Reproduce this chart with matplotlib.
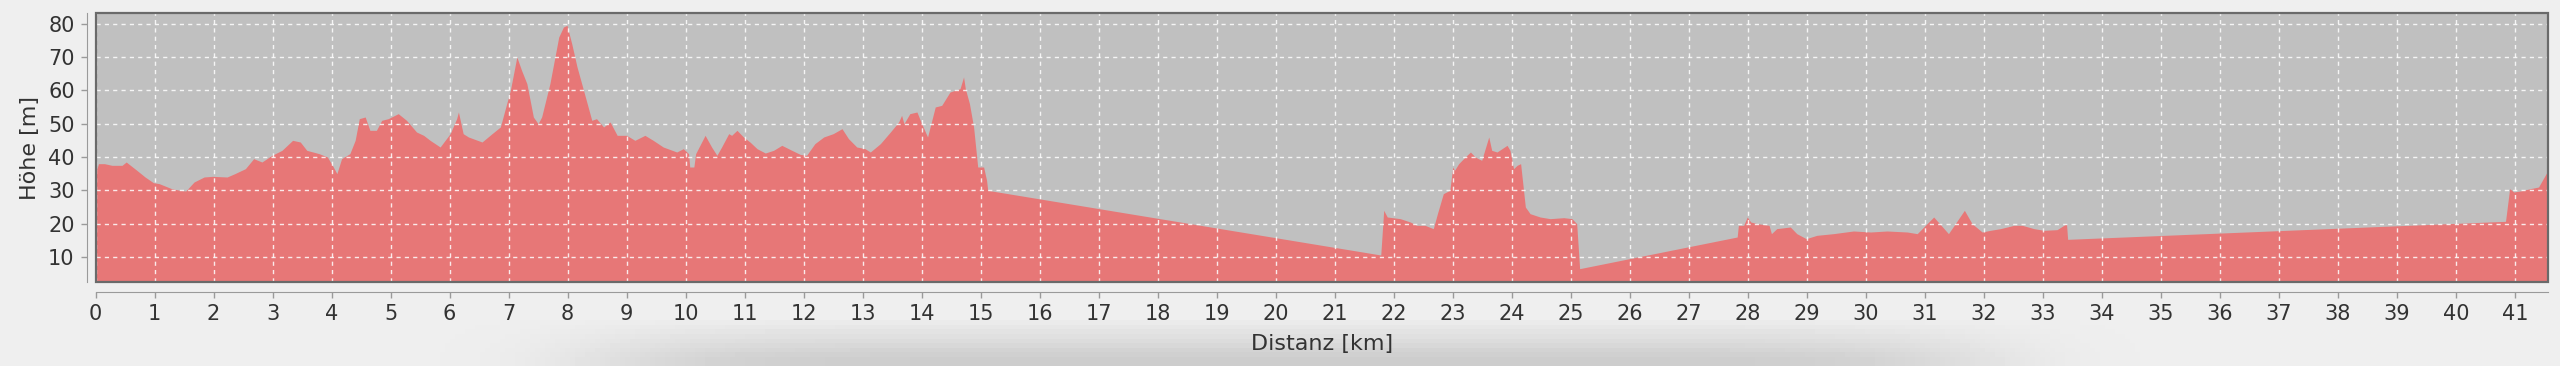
import numpy as np
import matplotlib
matplotlib.use('Agg')
import matplotlib.pyplot as plt
from matplotlib.patches import Rectangle

# Höhenprofil
dist_km = [0.00, 0.05, 0.15, 0.28, 0.45, 0.52, 0.70, 0.84, 0.98, 1.08, 1.29, 1.43, 1.53, 1.67, 1.84, 1.98,
           2.23, 2.36, 2.54, 2.68, 2.82, 2.99, 3.16, 3.34, 3.47, 3.58, 3.79, 3.93, 4.03, 4.09, 4.17, 4.31,
           4.40, 4.47, 4.57, 4.65, 4.76, 4.85, 4.96, 5.13, 5.27, 5.44, 5.56, 5.67, 5.84, 6.01, 6.12, 6.15,
           6.23, 6.32, 6.55, 6.72, 6.86, 7.03, 7.14, 7.22, 7.31, 7.42, 7.50, 7.56, 7.70, 7.85, 7.93, 7.99,
           8.07, 8.16, 8.27, 8.41, 8.49, 8.61, 8.72, 8.84, 9.00, 9.14, 9.31, 9.45, 9.62, 9.85, 9.96, 10.05,
           10.07, 10.14, 10.17, 10.33, 10.44, 10.53, 10.61, 10.73, 10.78, 10.87, 10.98, 11.09, 11.21, 11.35,
           11.49, 11.63, 11.80, 11.94, 12.05, 12.19, 12.34, 12.50, 12.65, 12.76, 12.90, 13.04, 13.13, 13.30,
           13.47, 13.61, 13.66, 13.70, 13.80, 13.92, 14.00, 14.10, 14.23, 14.34, 14.48, 14.65, 14.71, 14.74,
           14.81, 14.88, 14.95, 15.05, 15.10, 15.12, 21.78, 21.83, 21.89, 22.11, 22.28, 22.39, 22.53, 22.67,
           22.74, 22.84, 22.95, 23.00, 23.03, 23.10, 23.21, 23.30, 23.38, 23.49, 23.55, 23.61, 23.66, 23.75,
           23.92, 23.97, 24.03, 24.09, 24.15, 24.23, 24.31, 24.48, 24.65, 24.88, 25.02, 25.10, 25.15, 27.82,
           27.84, 27.93, 27.99, 28.05, 28.16, 28.36, 28.40, 28.49, 28.72, 28.83, 28.99, 29.17, 29.45, 29.79,
           30.08, 30.36, 30.70, 30.87, 31.15, 31.40, 31.67, 31.80, 31.97, 32.11, 32.28, 32.51, 32.65, 32.85,
           33.02, 33.24, 33.40, 33.42, 40.84, 40.91, 40.98, 41.09, 41.26, 41.40, 41.56]
hoehe_m = [35, 38, 38, 37.5, 37.5, 38.5, 36, 34, 32.3, 32, 30.5, 30, 29.8, 32.5, 34, 34.2,
           34, 35, 36.5, 39.5, 38.5, 40.5, 42, 45, 44.5, 42, 41, 40, 37, 35, 39.5, 41,
           45, 51.5, 52, 48, 48, 51, 51.5, 53, 51, 47.5, 46.5, 45, 43, 47, 51.5, 53.5,
           47, 46, 44.5, 47, 49, 60, 70, 66, 62, 52, 50, 52, 62, 76, 79, 79.5,
           74, 67, 60, 51, 51.5, 49, 50.5, 46.5, 46.5, 45, 46.5, 45, 43, 41.5, 42.5, 41,
           37, 37, 41, 46.5, 43, 40.5, 43, 47, 46.5, 48, 46, 44.5, 42.5, 41.2,
           42, 43.5, 42, 40.8, 40.5, 44, 46, 47, 48.5, 45.5, 43, 42.5, 41.5, 44,
           47.5, 50.5, 52.5, 50, 53, 53.5, 50, 46, 55, 55.5, 59.5, 60.5, 64, 60.5,
           56, 49, 37, 37, 33, 30, 10.6, 24, 22, 21.5, 20.5, 19.5, 19.5, 18.5,
           23, 29, 30, 37, 36, 38, 40, 41.5, 40, 39, 42.5, 46, 42, 41.5,
           43.5, 42, 36.5, 37.5, 38, 25, 23, 22, 21.5, 21.8, 21.5, 20, 6.5, 16,
           19.5, 19.5, 22, 20.5, 20, 19.5, 17, 18.5, 19, 17, 15.5, 16.5, 17, 17.8,
           17.5, 17.8, 17.5, 17, 22, 17, 24, 20, 17.5, 18, 18.5, 19.5, 19.5, 18.5,
           18, 18.2, 20, 15.3, 20.7, 30.5, 29.5, 29.8, 30.5, 31, 36]
x_ticks = list(range(0, 42))
y_ticks = [10, 20, 30, 40, 50, 60, 70, 80]

fig = plt.figure(figsize=(25.6, 3.66), dpi=100, facecolor='#eeeeee')

# weicher Schatten unten (Bildschirmfoto)
bg = fig.add_axes([0, 0, 1, 1], zorder=-5)
gx = np.linspace(0, 2560, 512)
gy = np.linspace(0, 366, 80)
GX, GY = np.meshgrid(gx, gy)
shade = np.clip((GY - 320) / 40.0, 0, 1) * np.exp(-((GX - 1290) / 700.0) ** 8)
bg.imshow(1 - 0.14 * shade, cmap='gray', vmin=0, vmax=1.07, extent=[0, 2560, 366, 0], aspect='auto')
bg.axis('off')

ax = fig.add_axes([95.5 / 2560, 1 - 282 / 366, (2548 - 95.5) / 2560, (282 - 13) / 366])
ax.set_facecolor('#c0c0c0')
ax.fill_between(dist_km, hoehe_m, 0, color='#ec6f6f', alpha=0.9, linewidth=0, zorder=2)
ax.set_xlim(0, 41.56)
ax.set_ylim(2.5, 83.2)
ax.set_xticks(x_ticks)
ax.set_yticks(y_ticks)
ax.grid(True, color='white', linestyle=(0, (3, 3)), linewidth=1, alpha=0.85, zorder=3)
ax.set_axisbelow(False)

for s in ['top', 'right']:
    ax.spines[s].set_visible(False)
ax.spines['left'].set_position(('outward', 6))
ax.spines['bottom'].set_position(('outward', 7))
ax.spines['left'].set_color('#9a9a9a')
ax.spines['bottom'].set_color('#9a9a9a')
ax.add_patch(Rectangle((0, 0), 1, 1, transform=ax.transAxes, fill=False,
                       edgecolor='#6a6a6a', linewidth=1.6, clip_on=False, zorder=5))

ax.tick_params(axis='both', direction='out', length=4, width=1, color='#9a9a9a',
               labelsize=15, labelcolor='#333333', pad=5)
ax.set_xlabel('Distanz [km]', fontsize=16, color='#333333', labelpad=7)
ax.set_ylabel('Höhe [m]', fontsize=16, color='#333333', labelpad=6)

fig.savefig('out.png', dpi=100, facecolor=fig.get_facecolor())
